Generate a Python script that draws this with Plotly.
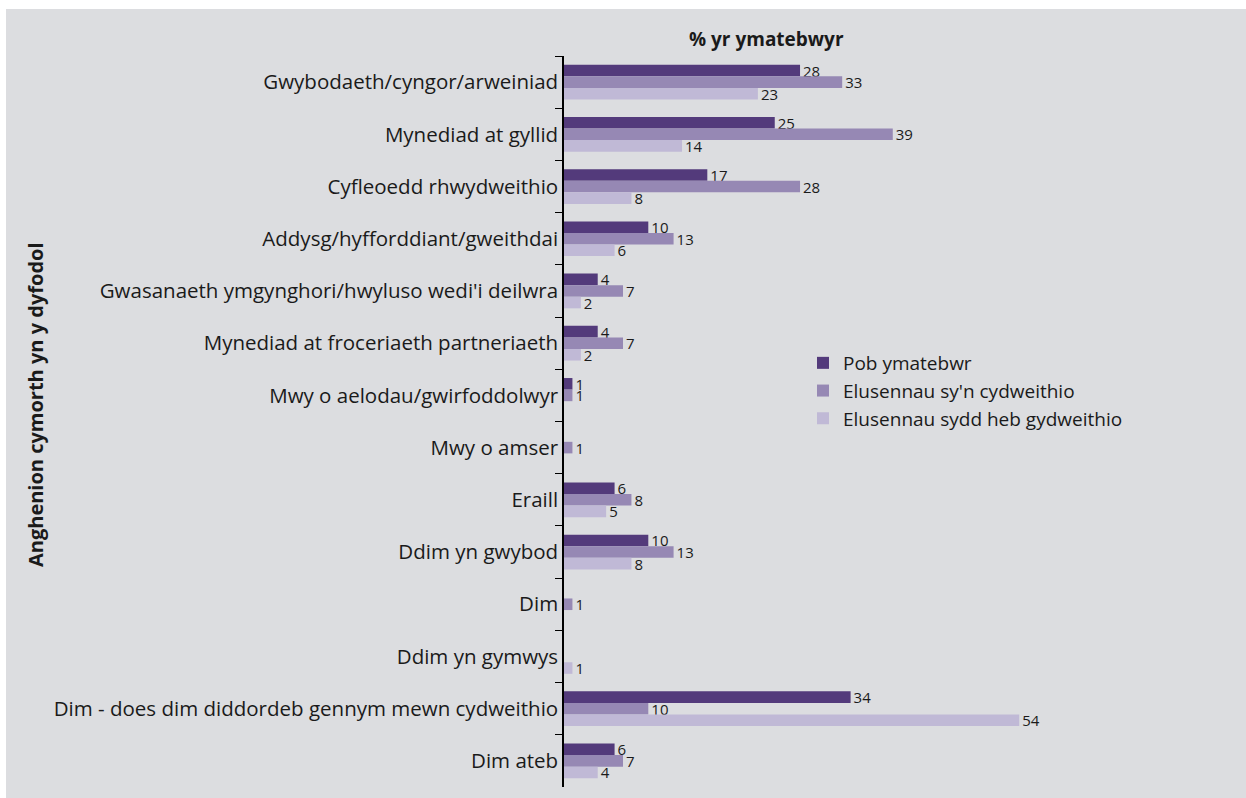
import plotly.graph_objects as go

categories = [
    "Gwybodaeth/cyngor/arweiniad",
    "Mynediad at gyllid",
    "Cyfleoedd rhwydweithio",
    "Addysg/hyfforddiant/gweithdai",
    "Gwasanaeth ymgynghori/hwyluso wedi'i deilwra",
    "Mynediad at froceriaeth partneriaeth",
    "Mwy o aelodau/gwirfoddolwyr",
    "Mwy o amser",
    "Eraill",
    "Ddim yn gwybod",
    "Dim",
    "Ddim yn gymwys",
    "Dim - does dim diddordeb gennym mewn cydweithio",
    "Dim ateb",
]
pob_ymatebwr = [28, 25, 17, 10, 4, 4, 1, 0, 6, 10, 0, 0, 34, 6]
cydweithio = [33, 39, 28, 13, 7, 7, 1, 1, 8, 13, 1, 0, 10, 7]
heb_gydweithio = [23, 14, 8, 6, 2, 2, 0, 0, 5, 8, 0, 1, 54, 4]

series_names = ["Pob ymatebwr", "Elusennau sy'n cydweithio", "Elusennau sydd heb gydweithio"]
colors = ["#533a7b", "#9688b4", "#c0b9d6"]

FONT = "Open Sans"
fig = go.Figure()
for name, vals, col in zip(series_names, [pob_ymatebwr, cydweithio, heb_gydweithio], colors):
    fig.add_trace(go.Bar(
        y=categories, x=vals, name=name, orientation="h",
        marker=dict(color=col, line=dict(width=0)),
        text=[str(v) if v else "" for v in vals],
        textposition="outside", cliponaxis=False, constraintext="none",
        textfont=dict(family=FONT, size=15, color="#1a1a1a"),
    ))

W, H = 1246, 798
ml, mr, mt, mb = 564, 8, 56, 11
pw, ph = W - ml - mr, H - mt - mb

def px(x):
    return (x - ml) / pw

def py(y):
    return (H - mb - y) / ph

fig.update_layout(
    width=W, height=H,
    margin=dict(l=ml, r=mr, t=mt, b=mb, pad=0),
    paper_bgcolor="white",
    plot_bgcolor="rgba(0,0,0,0)",
    barmode="group", bargap=0.335, bargroupgap=0,
    font=dict(family=FONT, size=20, color="#1a1a1a"),
    showlegend=True,
    legend=dict(x=px(803), y=py(344), xanchor="left", yanchor="top",
                bgcolor="rgba(0,0,0,0)", font=dict(family=FONT, size=19),
                itemsizing="constant"),
    xaxis=dict(range=[0, pw / 8.43], visible=False, fixedrange=True),
    yaxis=dict(autorange="reversed", showline=True, linecolor="black", linewidth=1.5,
               ticks="outside", tickson="boundaries", ticklen=7, tickcolor="black",
               tickfont=dict(family=FONT, size=20.5), showgrid=False, zeroline=False),
    shapes=[dict(type="rect", xref="paper", yref="paper", layer="below",
                 x0=px(6), x1=px(W + 2), y0=py(H + 2), y1=py(9),
                 fillcolor="#dcdde0", line=dict(width=0))],
    annotations=[
        dict(text="<b>% yr ymatebwyr</b>", xref="paper", yref="paper",
             x=px(766), y=py(39), xanchor="center", yanchor="middle",
             showarrow=False, font=dict(family=FONT, size=19)),
        dict(text="<b>Anghenion cymorth yn y dyfodol</b>", xref="paper", yref="paper",
             x=px(35), y=py(405), xanchor="center", yanchor="middle",
             textangle=-90, showarrow=False, font=dict(family=FONT, size=20)),
    ],
)
fig.write_html(
    "out.html",
    config={"displayModeBar": False},
    post_script="document.body.style.margin='0px';document.body.style.overflow='hidden';",
)
